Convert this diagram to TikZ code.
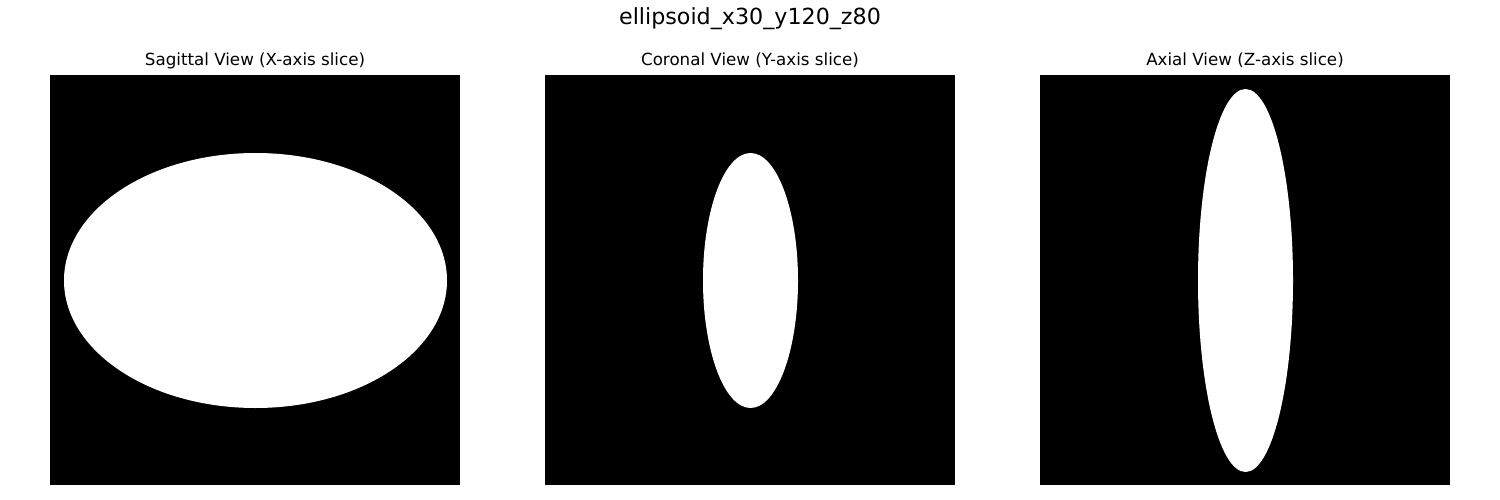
\documentclass[tikz,border=0pt]{standalone}
\usepackage{fontspec}
\setmainfont{DejaVu Sans}
\begin{document}
\begin{tikzpicture}[x=1pt,y=-1pt,
  panel/.style={fill=black, draw=none, minimum width=410pt, minimum height=410pt, inner sep=0pt, outer sep=0pt},
  subtitle/.style={font=\fontsize{16.7}{20}\selectfont, inner sep=0pt},
  maintitle/.style={font=\fontsize{22.2}{26}\selectfont, inner sep=0pt}]
\useasboundingbox (0,0) rectangle (1500,500);
\fill[white] (0,0) rectangle (1500,500);
\node[maintitle] (title) at (750,19) {ellipsoid\_x30\_y120\_z80};
\node[panel] (p1) at (255,280) {};
\node[panel] (p2) at (750,280) {};
\node[panel] (p3) at (1245,280) {};
\node[subtitle, anchor=base] (t1) at (255,66) {Sagittal View (X-axis slice)};
\node[subtitle, anchor=base] (t2) at (750,66) {Coronal View (Y-axis slice)};
\node[subtitle, anchor=base] (t3) at (1245,66) {Axial View (Z-axis slice)};
\fill[white] (255.5,280.5) ellipse (191.5 and 127.5);
\fill[white] (750.5,280.5) ellipse (47.5 and 127.5);
\fill[white] (1245.5,280.5) ellipse (47.5 and 191.5);
\end{tikzpicture}
\end{document}
